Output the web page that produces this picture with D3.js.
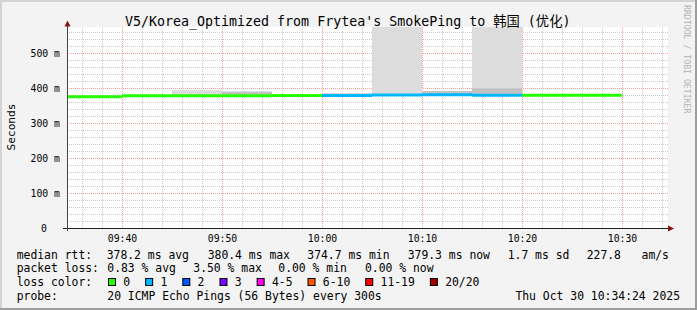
<!DOCTYPE html>
<html>
<head>
<meta charset="utf-8">
<script src="https://cdn.jsdelivr.net/npm/d3@7"></script>
<style>
  body { margin: 0; background: #f3f3f3; }
  svg text { font-family: "DejaVu Sans Mono", "Noto Sans CJK SC", monospace; white-space: pre; }
</style>
</head>
<body>
<svg id="canvas"></svg>
<script>
// five minute steps, start time of each step
const stepStarts = ['09:30', '09:35', '09:40', '09:45', '09:50', '09:55', '10:00', '10:05', '10:10', '10:15', '10:20', '10:25']
const medianMs = [375.0, 374.7, 377.9, 377.8, 378.0, 378.3, 378.4, 379.6, 380.4, 379.0, 379.2, 379.3]
const lossCount = [0, 0, 0, 0, 0, 0, 1, 1, 1, 1, 0, 0]
// smoke: highest ping and top of the dense part, ms
const smokeMaxMs = [378, 375, 378, 394, 389.5, 378.3, 384, 1200, 391, 1200, 379.2, 379.3]
const smokeDenseMs = [375, 374.7, 377.9, 377.8, 389.5, 378.3, 384, 379.6, 391, 399, 379.2, 379.3]

const lossLabels = ['0', '1', '2', '3', '4-5', '6-10', '11-19', '20/20']
const lossColors = ['#26ff00', '#00b8ff', '#0059ff', '#7e00ff', '#ff00ea', '#ff5500', '#ff0000', '#a10000']
const lossLimits = [0, 1, 2, 3, 5, 10, 19, 20]

const yTicks = [0, 100, 200, 300, 400, 500]
const xTicks = ['09:40', '09:50', '10:00', '10:10', '10:20', '10:30']

const legendRtt = ['378.2 ms avg', '380.4 ms max', '374.7 ms min', '379.3 ms now', '1.7 ms sd', '227.8   am/s']
const legendLoss = ['0.83 % avg', '3.50 % max', '0.00 % min', '0.00 % now']
const probeText = '20 ICMP Echo Pings (56 Bytes) every 300s'
const dateText = 'Thu Oct 30 10:34:24 2025'
const titleText = "V5/Korea_Optimized from Frytea's SmokePing to 韩国 (优化)"

const W = 697, H = 310
const plot = { left: 67, right: 668, top: 27, bottom: 228 }

const svg = d3.select('#canvas').attr('width', W).attr('height', H)
const parse = d3.timeParse('%H:%M:%S')
const hm = s => parse(s + ':00')

const x = d3.scaleTime().domain([parse('09:34:30'), parse('10:34:36')]).range([plot.left, plot.right])
const y = d3.scaleLinear().domain([0, 574]).range([plot.bottom, plot.top])
const crisp = v => Math.round(v) + 0.5

// background + frame
svg.append('rect').attr('width', W).attr('height', H).attr('fill', '#f3f3f3')
svg.append('rect').attr('x', 0).attr('y', 0).attr('width', W).attr('height', 2).attr('fill', '#d4d4d4')
svg.append('rect').attr('x', 0).attr('y', 0).attr('width', 2).attr('height', H).attr('fill', '#d4d4d4')
svg.append('rect').attr('x', 0).attr('y', H - 2).attr('width', W).attr('height', 2).attr('fill', '#9e9e9e')
svg.append('rect').attr('x', W - 2).attr('y', 0).attr('width', 2).attr('height', H).attr('fill', '#9e9e9e')

svg.append('rect')
    .attr('x', plot.left).attr('y', plot.top)
    .attr('width', plot.right - plot.left).attr('height', plot.bottom - plot.top)
    .attr('fill', '#ffffff')

svg.append('clipPath').attr('id', 'plotclip').append('rect')
    .attr('x', plot.left).attr('y', plot.top)
    .attr('width', plot.right - plot.left).attr('height', plot.bottom - plot.top)

// grid
const grid = svg.append('g')
const minorX = d3.timeMinute.every(2).range(x.domain()[0], x.domain()[1])
const majorX = d3.timeMinute.every(10).range(x.domain()[0], x.domain()[1])
const minorY = d3.range(20, 574, 20).filter(v => v % 100 !== 0)
const majorY = d3.range(100, 574, 100)

grid.selectAll('.vminor').data(minorX.filter(t => t.getMinutes() % 10 !== 0)).enter().append('line')
    .attr('x1', d => crisp(x(d))).attr('x2', d => crisp(x(d)))
    .attr('y1', plot.top).attr('y2', plot.bottom)
    .attr('stroke', '#cccccc').attr('stroke-dasharray', '1,1')
grid.selectAll('.hminor').data(minorY).enter().append('line')
    .attr('x1', plot.left).attr('x2', plot.right)
    .attr('y1', d => crisp(y(d))).attr('y2', d => crisp(y(d)))
    .attr('stroke', '#cccccc').attr('stroke-dasharray', '1,1')
grid.selectAll('.vmajor').data(majorX).enter().append('line')
    .attr('x1', d => crisp(x(d))).attr('x2', d => crisp(x(d)))
    .attr('y1', plot.top).attr('y2', plot.bottom)
    .attr('stroke', '#f4a0a0').attr('stroke-dasharray', '1,1')
grid.selectAll('.hmajor').data(majorY).enter().append('line')
    .attr('x1', plot.left).attr('x2', plot.right)
    .attr('y1', d => crisp(y(d))).attr('y2', d => crisp(y(d)))
    .attr('stroke', '#f4a0a0').attr('stroke-dasharray', '1,1')

// data rows
const steps = stepStarts.map((s, i) => ({
    t0: hm(s),
    t1: d3.timeMinute.offset(hm(s), 5),
    median: medianMs[i],
    loss: lossCount[i],
    smokeMax: smokeMaxMs[i],
    smokeDense: smokeDenseMs[i]
}))

const lossColor = n => lossColors[lossLimits.findIndex(l => n <= l)]

const data = svg.append('g').attr('clip-path', 'url(#plotclip)')

data.selectAll('.smoke').data(steps.filter(d => d.smokeMax > d.median)).enter().append('rect')
    .attr('x', d => x(d.t0)).attr('width', d => x(d.t1) - x(d.t0))
    .attr('y', d => y(d.smokeMax)).attr('height', d => y(d.median) - y(d.smokeMax))
    .attr('fill', '#dcdcdc')

data.selectAll('.dense').data(steps.filter(d => d.smokeDense > d.median)).enter().append('rect')
    .attr('x', d => x(d.t0)).attr('width', d => x(d.t1) - x(d.t0))
    .attr('y', d => y(d.smokeDense)).attr('height', d => y(d.median) - y(d.smokeDense))
    .attr('fill', '#c2c2c2')

data.selectAll('.median').data(steps).enter().append('line')
    .attr('x1', d => x(d.t0)).attr('x2', d => x(d.t1))
    .attr('y1', d => y(d.median)).attr('y2', d => y(d.median))
    .attr('stroke', d => lossColor(d.loss)).attr('stroke-width', 3)

// axes
const yAxis = svg.append('g').attr('transform', `translate(${plot.left},0)`)
    .call(d3.axisLeft(y).tickValues(yTicks).tickFormat(v => v === 0 ? '0' : `${v} m`).tickSize(0).tickPadding(7))
yAxis.select('.domain').remove()
yAxis.selectAll('text')
    .attr('font-family', null).attr('font-size', '9.8px').attr('fill', '#000')
    .attr('x', d => d === 0 ? -20 : -7)

const xAxis = svg.append('g').attr('transform', `translate(0,${plot.bottom})`)
    .call(d3.axisBottom(x).tickValues(xTicks.map(hm)).tickFormat(d3.timeFormat('%H:%M')).tickSize(0))
xAxis.select('.domain').remove()
xAxis.selectAll('text')
    .attr('font-family', null).attr('font-size', '9.8px').attr('fill', '#000')
    .attr('y', 13.5).attr('dy', null)

svg.append('line')
    .attr('x1', 63).attr('x2', plot.right)
    .attr('y1', plot.bottom + 0.5).attr('y2', plot.bottom + 0.5)
    .attr('stroke', '#222')
svg.append('line')
    .attr('x1', plot.left + 0.5).attr('x2', plot.left + 0.5)
    .attr('y1', plot.bottom + 3).attr('y2', plot.top - 1)
    .attr('stroke', '#444')
svg.append('path')
    .attr('d', `M${plot.left - 2.5},${plot.top - 0.5}L${plot.left + 3.5},${plot.top - 0.5}L${plot.left + 0.5},${plot.top - 6.5}Z`)
    .attr('fill', '#8b1010')
svg.append('path')
    .attr('d', `M${plot.right},${plot.bottom - 2.5}L${plot.right},${plot.bottom + 3.5}L${plot.right + 6},${plot.bottom + 0.5}Z`)
    .attr('fill', '#8b1010')

// title and side labels
svg.append('text').attr('x', 125).attr('y', 26)
    .attr('font-size', '13.3px').attr('fill', '#000').text(titleText)

svg.append('text').attr('transform', 'translate(14.5,127) rotate(-90)')
    .attr('text-anchor', 'middle').attr('font-size', '11.2px').attr('fill', '#000').text('Seconds')

svg.append('text').attr('transform', 'translate(684,5) rotate(90)')
    .attr('font-size', '8.2px').attr('fill', '#b4b4b4').text('RRDTOOL / TOBI OETIKER')

// legend
const legend = svg.append('g').attr('font-size', '11.4px').attr('fill', '#000')
const rowY = [258.5, 272.2, 286, 299.7]
const colLabel = 16.7

const addRow = (label, items, xs, ry) => {
    legend.append('text').attr('x', colLabel).attr('y', ry).text(label)
    legend.selectAll(null).data(items).enter().append('text')
        .attr('x', (d, i) => xs[i]).attr('y', ry).text(d => d)
}

addRow('median rtt:', legendRtt, [106.7, 207.7, 307.3, 407.7, 507.7, 586.7], rowY[0])
addRow('packet loss:', legendLoss, [107.3, 193.3, 278.3, 365], rowY[1])

legend.append('text').attr('x', colLabel).attr('y', rowY[2]).text('loss color:')
let sx = 108.5
lossLabels.forEach((lab, i) => {
    legend.append('rect')
        .attr('x', sx).attr('y', rowY[2] - 7.5).attr('width', 7).attr('height', 7)
        .attr('fill', lossColors[i]).attr('stroke', '#000').attr('stroke-width', 1)
    const t = legend.append('text').attr('x', sx + 14.8).attr('y', rowY[2]).text(lab)
    sx += 14.8 + t.node().getComputedTextLength() + 15.5
})

legend.append('text').attr('x', colLabel).attr('y', rowY[3]).text('probe:')
legend.append('text').attr('x', 107.3).attr('y', rowY[3]).text(probeText)
legend.append('text').attr('x', 680).attr('y', rowY[3]).attr('text-anchor', 'end').text(dateText)
</script>
</body>
</html>
